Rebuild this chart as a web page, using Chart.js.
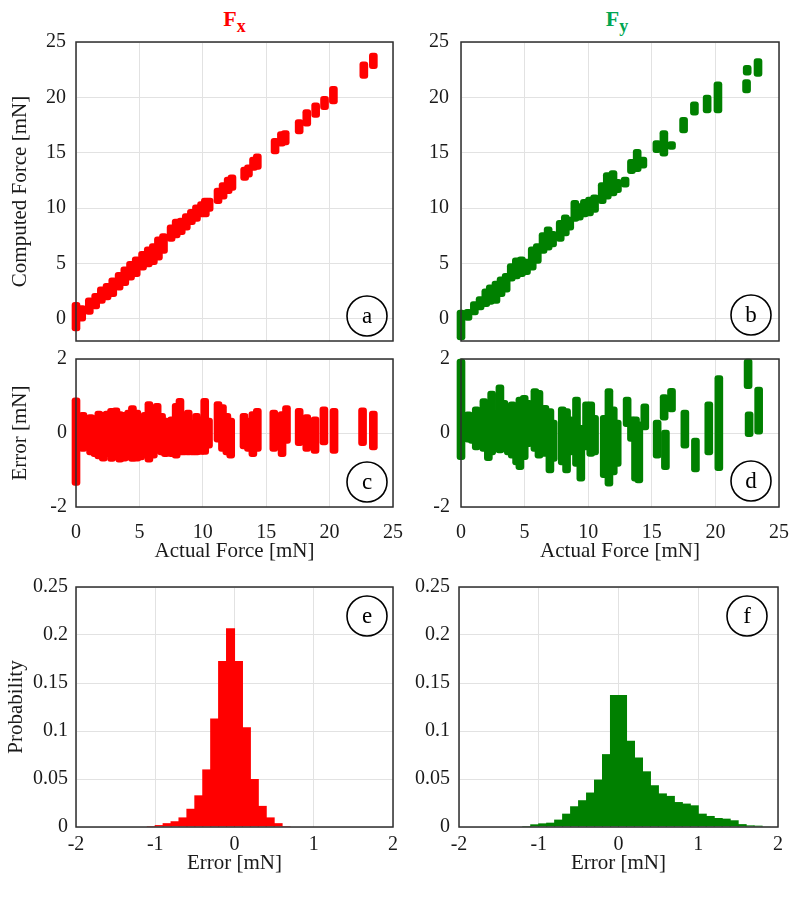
<!DOCTYPE html>
<html>
<head>
<meta charset="utf-8">
<script src="https://cdn.jsdelivr.net/npm/chart.js@4.4.1/dist/chart.umd.min.js"></script>
<style>
  body { margin: 0; background: #fff; }
  #fig { position: relative; width: 800px; height: 897px; overflow: hidden; background: #fff; }
  canvas { position: absolute; }
  .ttl { position: absolute; top: 6px; text-align: center; font: bold 22px "Liberation Serif", serif; line-height: 26px; }
  .ttl sub { font-size: 18px; vertical-align: -6px; line-height: 0; }
</style>
</head>
<body>
<div id="fig">
  <div class="ttl" style="left:76px;width:317px;color:#ff0000">F<sub>x</sub></div>
  <div class="ttl" style="left:458px;width:318px;color:#00a651">F<sub>y</sub></div>
  <canvas id="pa"></canvas>
  <canvas id="pb"></canvas>
  <canvas id="pc"></canvas>
  <canvas id="pd"></canvas>
  <canvas id="pe"></canvas>
  <canvas id="pf"></canvas>
</div>
<script>
// tick values
const forceTicks = [0, 5, 10, 15, 20, 25];
const errorTicks = [-2, 0, 2];
const histErrTicks = [-2, -1, 0, 1, 2];
const probTicks = [0, 0.05, 0.1, 0.15, 0.2, 0.25];

// (a) Fx: actual force vs computed force range [mN]
const fxActual = [0, 0.45, 1.05, 1.55, 2.0, 2.45, 2.9, 3.4, 3.85, 4.3, 4.75, 5.25, 5.7, 6.1, 6.5, 6.9, 7.5, 7.9, 8.3, 8.7, 9.1, 9.5, 9.9, 10.2, 10.5, 11.2, 11.6, 12.0, 12.3, 13.3, 13.6, 14.0, 14.3, 15.7, 16.2, 16.5, 17.6, 18.2, 18.9, 19.6, 20.3, 22.7, 23.45];
const fxCompLow = [-1.1, -0.2, 0.4, 0.9, 1.4, 1.7, 2.0, 2.6, 3.0, 3.5, 3.8, 4.4, 4.7, 4.9, 5.3, 5.9, 7.0, 7.3, 7.6, 8.0, 8.5, 8.8, 9.2, 9.2, 9.7, 10.4, 10.8, 11.3, 11.6, 12.5, 12.8, 13.4, 13.5, 14.9, 15.6, 15.7, 16.7, 17.4, 18.2, 18.9, 19.4, 21.7, 22.6];
const fxCompHigh = [1.5, 1.2, 1.9, 2.3, 2.9, 3.2, 3.7, 4.2, 4.7, 5.2, 5.6, 6.1, 6.5, 6.8, 7.4, 7.7, 8.5, 9.0, 9.1, 9.5, 9.9, 10.3, 10.6, 10.9, 10.9, 11.8, 12.3, 12.8, 13.0, 13.7, 13.9, 14.6, 14.9, 16.3, 16.9, 17.0, 18.0, 18.9, 19.5, 20.1, 21.0, 23.2, 24.0];

// (b) Fy
const fyActual = [0, 0.55, 1.05, 1.5, 1.95, 2.3, 2.75, 3.15, 3.55, 3.95, 4.35, 4.75, 5.15, 5.6, 6.0, 6.45, 6.85, 7.2, 7.8, 8.2, 8.55, 8.95, 9.3, 9.7, 10.1, 10.5, 11.1, 11.5, 11.95, 12.3, 12.9, 13.4, 13.85, 14.3, 15.4, 15.95, 16.55, 17.5, 18.35, 19.35, 20.2, 22.45, 22.5, 23.35];
const fyCompLow = [-1.9, -0.15, 0.36, 0.8, 1.1, 1.3, 1.4, 2.0, 2.4, 3.4, 3.6, 3.8, 4.0, 4.4, 5.0, 5.9, 6.2, 6.5, 7.0, 7.5, 8.0, 8.8, 8.9, 9.2, 9.3, 9.6, 10.4, 10.8, 11.1, 11.4, 11.9, 13.1, 13.3, 13.6, 15.0, 14.7, 15.3, 16.8, 18.4, 18.6, 18.6, 20.4, 22.0, 21.9];
const fyCompHigh = [0.8, 0.87, 1.56, 2.0, 2.7, 3.07, 3.4, 3.8, 4.1, 5.0, 5.5, 5.6, 5.4, 6.5, 6.8, 7.8, 8.3, 7.9, 8.9, 9.4, 9.2, 10.7, 10.4, 10.8, 11.0, 11.2, 12.3, 13.2, 13.4, 12.6, 12.8, 14.4, 15.3, 14.6, 16.1, 17.0, 16.0, 18.2, 19.6, 20.2, 21.4, 21.6, 22.9, 23.5];

// (c) Fx error range per actual force
const fxErrX = [0, 0.55, 0.85, 1.15, 1.5, 1.8, 2.15, 2.45, 2.8, 3.15, 3.45, 3.8, 4.15, 4.45, 4.8, 5.1, 5.45, 5.75, 6.1, 6.4, 6.75, 7.05, 7.55, 7.9, 8.2, 8.5, 8.85, 9.2, 9.5, 9.85, 10.15, 10.45, 11.2, 11.55, 11.9, 12.2, 13.25, 13.6, 13.95, 14.3, 15.6, 15.95, 16.25, 16.6, 17.6, 18.2, 18.85, 19.55, 20.35, 22.6, 23.45];
const fxErrLow = [-1.42, -0.50, -0.37, -0.59, -0.64, -0.70, -0.76, -0.64, -0.77, -0.73, -0.79, -0.76, -0.73, -0.77, -0.76, -0.73, -0.59, -0.79, -0.68, -0.55, -0.59, -0.64, -0.64, -0.68, -0.59, -0.59, -0.59, -0.59, -0.59, -0.58, -0.58, -0.41, -0.25, -0.50, -0.59, -0.68, -0.43, -0.50, -0.64, -0.50, -0.50, -0.41, -0.64, -0.28, -0.34, -0.50, -0.55, -0.32, -0.55, -0.34, -0.46];
const fxErrHigh = [0.95, 0.56, 0.44, 0.50, 0.47, 0.59, 0.56, 0.59, 0.67, 0.68, 0.58, 0.56, 0.62, 0.74, 0.62, 0.50, 0.56, 0.85, 0.53, 0.80, 0.53, 0.40, 0.44, 0.80, 0.94, 0.53, 0.62, 0.35, 0.53, 0.44, 0.94, 0.40, 0.85, 0.77, 0.53, 0.40, 0.53, 0.40, 0.58, 0.67, 0.62, 0.40, 0.58, 0.74, 0.67, 0.50, 0.44, 0.71, 0.67, 0.68, 0.59];

// (d) Fy error range per actual force
const fyErrX = [0, 0.58, 0.89, 1.2, 1.49, 1.8, 2.15, 2.41, 2.72, 3.06, 3.38, 3.72, 4.03, 4.37, 4.63, 4.97, 5.29, 5.81, 6.13, 6.6, 6.99, 7.25, 7.96, 8.3, 8.56, 9.08, 9.42, 9.87, 10.2, 10.5, 11.26, 11.63, 11.97, 12.28, 13.06, 13.4, 13.72, 13.98, 14.45, 15.42, 15.97, 16.07, 16.55, 17.6, 18.43, 19.48, 20.27, 22.57, 22.65, 23.4];
const fyErrLow = [-0.72, -0.25, -0.28, -0.46, -0.41, -0.50, -0.75, -0.59, -0.46, -0.54, -0.50, -0.59, -0.68, -0.86, -0.99, -0.72, -0.37, -0.50, -0.68, -0.63, -1.08, -0.77, -0.86, -1.08, -0.59, -0.90, -1.30, -0.46, -0.63, -0.59, -1.21, -1.44, -1.13, -0.90, 0.17, -0.23, -1.30, -1.35, 0.08, -0.68, 0.35, -0.99, 0.57, -0.41, -1.05, -0.59, -1.02, 1.20, -0.10, -0.03];
const fyErrHigh = [2.0, 0.57, 0.44, 0.71, 0.66, 0.93, 0.84, 1.13, 0.62, 1.30, 0.88, 0.79, 0.84, 0.75, 0.97, 1.02, 0.88, 1.20, 1.15, 0.75, 0.66, 0.35, 0.71, 0.66, 0.44, 0.97, 0.21, 0.84, 0.84, 0.48, 0.48, 1.20, 0.71, 0.35, 0.97, 0.44, 0.44, 0.30, 0.79, 0.35, 1.04, 0.08, 1.21, 0.62, -0.14, 0.84, 1.55, 2.0, 0.57, 1.24];

// (e) (f) error histograms, bin centres and probability
const fxBins = [-1.05, -0.95, -0.85, -0.75, -0.65, -0.55, -0.45, -0.35, -0.25, -0.15, -0.05, 0.05, 0.15, 0.25, 0.35, 0.45, 0.55, 0.65];
const fxProb = [0.001, 0.002, 0.004, 0.006, 0.010, 0.019, 0.033, 0.060, 0.113, 0.173, 0.207, 0.173, 0.104, 0.050, 0.022, 0.010, 0.004, 0.001];
const fyBins = [-1.15, -1.05, -0.95, -0.85, -0.75, -0.65, -0.55, -0.45, -0.35, -0.25, -0.15, -0.05, 0.05, 0.15, 0.25, 0.35, 0.45, 0.55, 0.65, 0.75, 0.85, 0.95, 1.05, 1.15, 1.25, 1.35, 1.45, 1.55, 1.65, 1.75, 1.85];
const fyProb = [0.001, 0.0028, 0.0038, 0.0045, 0.0077, 0.0139, 0.0216, 0.0279, 0.0359, 0.0494, 0.0759, 0.1375, 0.1375, 0.0898, 0.0724, 0.058, 0.0435, 0.035, 0.0324, 0.026, 0.0244, 0.0226, 0.0139, 0.0115, 0.0094, 0.0087, 0.007, 0.003, 0.0017, 0.0014, 0.0007];

const RED = '#ff0000';
const GREEN = '#008000';
const GRID = '#e2e2e2';
const PAD_T = 14, PAD_R = 14;

Chart.defaults.font.family = '"Liberation Serif", "Times New Roman", serif';
Chart.defaults.color = '#1a1a1a';

// axes box + circled panel letter
const frame = {
  id: 'frame',
  afterDatasetsDraw(chart, args, o) {
    const { ctx, chartArea: a } = chart;
    ctx.save();
    ctx.strokeStyle = '#2e2e2e';
    ctx.lineWidth = 1.5;
    ctx.strokeRect(a.left, a.top, a.width, a.height);
    const cx = a.right - o.dx;
    const cy = o.top ? a.top + o.dy : a.bottom - o.dy;
    ctx.strokeStyle = '#000';
    ctx.lineWidth = 1.6;
    ctx.beginPath();
    ctx.arc(cx, cy, 20, 0, Math.PI * 2);
    ctx.stroke();
    ctx.fillStyle = '#000';
    ctx.font = '23px "Liberation Serif"';
    ctx.textAlign = 'center';
    ctx.textBaseline = 'middle';
    ctx.fillText(o.letter, cx, cy + 1);
    ctx.restore();
  }
};

function rangeBars(xs, lo, hi, color) {
  return {
    data: xs.map((x, i) => ({ x: x, y: [lo[i], hi[i]] })),
    backgroundColor: color,
    barThickness: 8,
    borderRadius: 3,
    borderSkipped: false,
    clip: false
  };
}

function histBars(xs, ps, color) {
  return {
    data: xs.map((x, i) => ({ x: x, y: ps[i] })),
    backgroundColor: color,
    borderColor: color,
    borderWidth: 0,
    barPercentage: 1.14,
    categoryPercentage: 1
  };
}

function panel(id, box, o) {
  const c = document.getElementById(id);
  c.width = o.lw + box.w + PAD_R;
  c.height = PAD_T + box.h + o.bh;
  c.style.left = (box.x - o.lw) + 'px';
  c.style.top = (box.y - PAD_T) + 'px';

  new Chart(c, {
    type: 'bar',
    data: { datasets: [o.dataset] },
    options: {
      responsive: false,
      animation: false,
      layout: { padding: { top: PAD_T, right: PAD_R, left: 0, bottom: 0 } },
      plugins: {
        legend: { display: false },
        tooltip: { enabled: false },
        frame: { letter: o.letter, dx: o.dx, dy: o.dy, top: o.top }
      },
      scales: {
        x: {
          type: 'linear',
          min: o.xr[0], max: o.xr[1],
          offset: false,
          grid: { color: GRID, drawTicks: false, offset: false },
          border: { display: false },
          ticks: { display: o.xLabels, autoSkip: false, padding: o.xPad, font: { size: 20 }, maxRotation: 0, callback: v => String(v) },
          afterBuildTicks: s => { s.ticks = o.xTicks.map(v => ({ value: v })); },
          afterFit: s => { s.height = o.bh; s.paddingLeft = 0; s.paddingRight = 0; },
          title: {
            display: !!o.xTitle,
            text: o.xTitle || '',
            font: { size: 21 },
            padding: { top: 0, bottom: o.xTitlePad || 0 }
          }
        },
        y: {
          min: o.yr[0], max: o.yr[1],
          grid: { color: GRID, drawTicks: false },
          border: { display: false },
          ticks: { autoSkip: false, padding: o.yPad, font: { size: 20 }, callback: v => String(v) },
          afterBuildTicks: s => { s.ticks = o.yTicks.map(v => ({ value: v })); },
          afterFit: s => { s.width = o.lw; s.paddingTop = 0; s.paddingBottom = 0; },
          title: {
            display: !!o.yTitle,
            text: o.yTitle || '',
            font: { size: 21 },
            padding: { top: o.yTitlePad || 0, bottom: 0 }
          }
        }
      }
    },
    plugins: [frame]
  });
}

panel('pa', { x: 76, y: 42, w: 317, h: 299 }, {
  lw: 76, bh: 4, dataset: rangeBars(fxActual, fxCompLow, fxCompHigh, RED),
  xr: [0, 25], xTicks: forceTicks, xLabels: false, xPad: 0,
  yr: [-2, 25], yTicks: forceTicks, yPad: 10,
  yTitle: 'Computed Force [mN]', yTitlePad: 8,
  letter: 'a', dx: 26, dy: 25, top: false
});

panel('pb', { x: 461, y: 42, w: 318, h: 299 }, {
  lw: 60, bh: 4, dataset: rangeBars(fyActual, fyCompLow, fyCompHigh, GREEN),
  xr: [0, 25], xTicks: forceTicks, xLabels: false, xPad: 0,
  yr: [-2, 25], yTicks: forceTicks, yPad: 12,
  letter: 'b', dx: 28, dy: 26, top: false
});

panel('pc', { x: 76, y: 359, w: 317, h: 148 }, {
  lw: 76, bh: 60, dataset: rangeBars(fxErrX, fxErrLow, fxErrHigh, RED),
  xr: [0, 25], xTicks: forceTicks, xLabels: true, xPad: 14,
  xTitle: 'Actual Force [mN]', xTitlePad: 3,
  yr: [-2, 2], yTicks: errorTicks, yPad: 9,
  yTitle: 'Error [mN]', yTitlePad: 8,
  letter: 'c', dx: 26, dy: 25, top: false
});

panel('pd', { x: 461, y: 359, w: 318, h: 148 }, {
  lw: 60, bh: 60, dataset: rangeBars(fyErrX, fyErrLow, fyErrHigh, GREEN),
  xr: [0, 25], xTicks: forceTicks, xLabels: true, xPad: 14,
  xTitle: 'Actual Force [mN]', xTitlePad: 3,
  yr: [-2, 2], yTicks: errorTicks, yPad: 11,
  letter: 'd', dx: 28, dy: 26, top: false
});

panel('pe', { x: 76, y: 587, w: 317, h: 240 }, {
  lw: 76, bh: 62, dataset: histBars(fxBins, fxProb, RED),
  xr: [-2, 2], xTicks: histErrTicks, xLabels: true, xPad: 6,
  xTitle: 'Error [mN]', xTitlePad: 13,
  yr: [0, 0.25], yTicks: probTicks, yPad: 8,
  yTitle: 'Probability', yTitlePad: 4,
  letter: 'e', dx: 26, dy: 29, top: true
});

panel('pf', { x: 459, y: 587, w: 319, h: 240 }, {
  lw: 60, bh: 62, dataset: histBars(fyBins, fyProb, GREEN),
  xr: [-2, 2], xTicks: histErrTicks, xLabels: true, xPad: 6,
  xTitle: 'Error [mN]', xTitlePad: 13,
  yr: [0, 0.25], yTicks: probTicks, yPad: 9,
  letter: 'f', dx: 31, dy: 29, top: true
});
</script>
</body>
</html>
